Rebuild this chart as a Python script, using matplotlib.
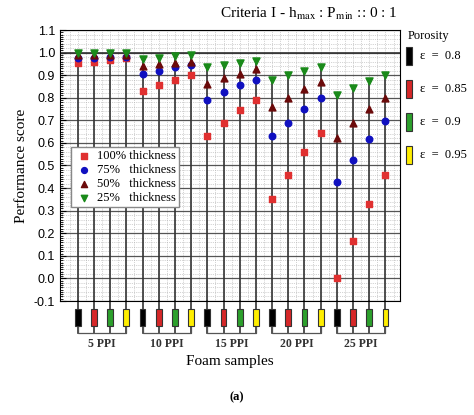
import numpy as np
import matplotlib.pyplot as plt
from matplotlib.patches import Rectangle

plt.rcParams['mathtext.fontset'] = 'stix'

# 20 samples: 5 PPI groups x 4 porosities
ppi_labels = ['5 PPI', '10 PPI', '15 PPI', '20 PPI', '25 PPI']
porosity_labels = ['0.8', '0.85', '0.9', '0.95']
porosity_colors = ['#000000', '#d62728', '#2ca02c', '#ffee00']

t100 = [0.956, 0.96, 0.966, 0.974, 0.83, 0.856, 0.88, 0.90, 0.63, 0.69, 0.745, 0.79,
        0.353, 0.46, 0.56, 0.643, 0.0, 0.165, 0.33, 0.46]
t75 = [0.978, 0.974, 0.98, 0.98, 0.907, 0.92, 0.934, 0.946, 0.79, 0.824, 0.856, 0.88,
       0.63, 0.69, 0.75, 0.80, 0.426, 0.525, 0.616, 0.695]
t50 = [0.99, 0.99, 0.99, 0.99, 0.94, 0.95, 0.956, 0.96, 0.863, 0.887, 0.907, 0.926,
       0.757, 0.80, 0.837, 0.868, 0.62, 0.687, 0.75, 0.80]
t25 = [0.997, 0.997, 0.997, 0.997, 0.97, 0.978, 0.983, 0.988, 0.934, 0.946, 0.954, 0.963,
       0.88, 0.90, 0.92, 0.937, 0.813, 0.842, 0.872, 0.90]

serif = 'Liberation Serif'
sans = 'Liberation Sans'

fig = plt.figure(figsize=(4.74, 4.15), dpi=100)
ax = fig.add_axes([60/474, 1-301/415, 340/474, 271/415])
x = np.arange(20)

# vertical stems from top marker down to the resistors
top = np.max([t100, t75, t50, t25], axis=0)
ax.vlines(x, -0.1, top, color='#333333', lw=1.2, zorder=2)

ax.scatter(x, t100, marker='s', s=18, color='#e03030', label='100% thickness', zorder=3)
ax.scatter(x, t75, marker='o', s=22, color='#1010c0', label='75%   thickness', zorder=3)
ax.scatter(x, t50, marker='^', s=24, color='#6b0a0a', label='50%   thickness', zorder=3)
ax.scatter(x, t25, marker='v', s=26, color='#1a8a1a', label='25%   thickness', zorder=3)

ax.set_xlim(-1.1, 19.9)
ax.set_ylim(-0.1, 1.1)
ax.set_yticks(np.arange(-0.1, 1.101, 0.1))
ax.set_yticklabels(['%.1f' % v for v in np.arange(-0.1, 1.101, 0.1)], fontfamily=sans, fontsize=9)
ax.set_yticks(np.arange(-0.1, 1.1, 0.01), minor=True)
ax.set_xticks([])
ax.grid(axis='y', which='major', color='#555555', lw=0.9)
for v in np.arange(-0.1, 1.1, 0.02):
    ax.axhline(v, color='#aaaaaa', lw=0.5, ls=':', zorder=0)
for v in np.arange(-1.0, 20, 0.5):
    ax.axvline(v, color='#aaaaaa', lw=0.5, ls=':', zorder=0)
ax.axhline(1.0, color='#333333', lw=1.2)
ax.tick_params(axis='y', which='major', direction='in', length=4)
ax.tick_params(axis='y', which='minor', direction='in', length=2)
ax.set_ylabel('Performance score', fontfamily=serif, fontsize=11)

ax.legend(loc='upper left', bbox_to_anchor=(0.015, 0.59), prop={'family': serif, 'size': 9},
          fancybox=False, edgecolor='#888888', framealpha=1, handletextpad=0.3,
          borderpad=0.25, labelspacing=0.15, handlelength=1.5, markerscale=0.9)

# resistors and group brackets under the axes
for i in x:
    ax.plot([i, i], [-0.1, -0.24], color='#333333', lw=1.2, clip_on=False)
    ax.add_patch(Rectangle((i - 0.18, -0.21), 0.36, 0.075, facecolor=porosity_colors[i % 4],
                           edgecolor='#333333', lw=0.8, clip_on=False, zorder=4))
for g, lab in enumerate(ppi_labels):
    a, b = 4 * g, 4 * g + 3
    ax.plot([a, a, b, b], [-0.21, -0.24, -0.24, -0.21], color='#555555', lw=0.9, clip_on=False)
    ax.text((a + b) / 2, -0.29, lab, ha='center', va='center', fontfamily=serif, fontsize=8.5,
            color='#333333', fontweight='bold')
ax.text(9.4, -0.37, 'Foam samples', ha='center', va='center', fontfamily=serif, fontsize=11)
fig.text(0.5, 1-397/415, '(a)', ha='center', va='center', fontfamily=serif, fontsize=9,
         fontweight='bold')

fig.text(397/474, 1-14/415, r'Criteria I - h$_{\mathrm{max}}$ : P$_{\mathrm{min}}$ :: 0 : 1',
         ha='right', va='center', fontfamily=serif, fontsize=11)

# porosity legend on the right
fig.text(408/474, 1-36/415, 'Porosity', ha='left', va='center', fontfamily=serif, fontsize=9)
for k, (lab, c) in enumerate(zip(porosity_labels, porosity_colors)):
    yc = 56 + 33 * k
    fig.patches.append(Rectangle((406/474, 1-(yc+9)/415), 6/474, 18/415, facecolor=c,
                                 edgecolor='#333333', lw=0.8, transform=fig.transFigure))
    fig.text(420/474, 1-yc/415, '\u03b5  =  ' + lab, ha='left', va='center',
             fontfamily=serif, fontsize=9)

fig.savefig('out.png', dpi=100)
